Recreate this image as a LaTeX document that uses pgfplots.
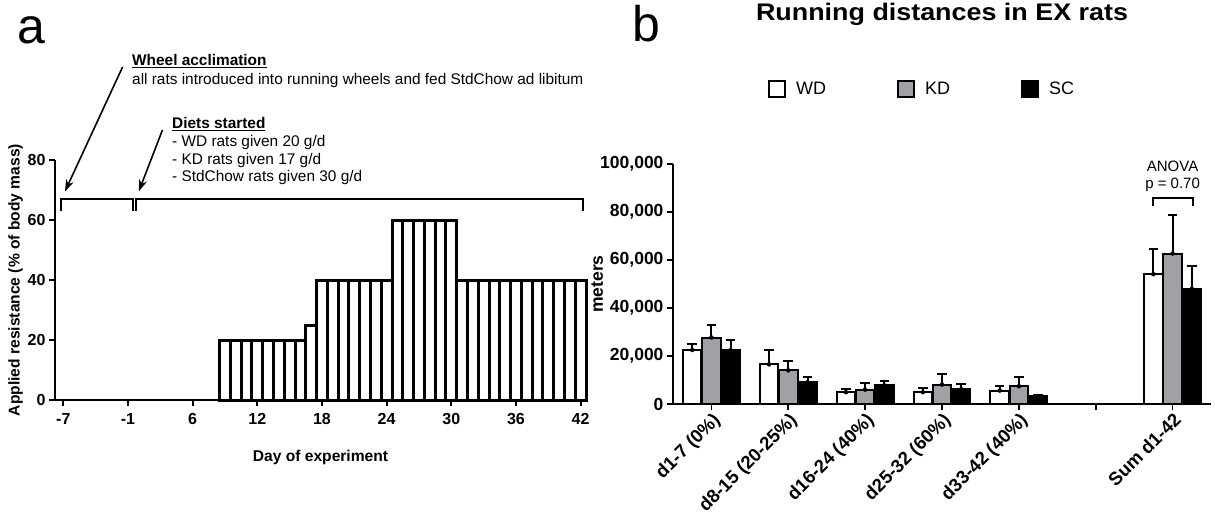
\documentclass[border=0pt]{standalone}
\usepackage{pgfplots}
\usepackage{pgfplotstable}
\pgfplotsset{compat=1.18}
\usepackage{graphicx}
\usepackage{fontspec}
\setmainfont{Liberation Sans}
\usetikzlibrary{arrows.meta}
\definecolor{kdgray}{RGB}{160,160,166}

\pgfplotstableread{
x y e
0 22500 2700
1 16500 6200
2 4900 1400
3 4900 1700
4 5600 1700
6 54100 10400
}\wdtab
\pgfplotstableread{
x y e
0 27700 5300
1 14000 3800
2 6000 2800
3 8100 4500
4 7400 3800
6 62700 16200
}\kdtab
\pgfplotstableread{
x y e
0 22400 4300
1 9100 2100
2 7800 1700
3 6200 2200
4 3200 600
6 48000 9300
}\sctab

\pgfplotsset{
  mylegimg/.style={legend image code/.code={\draw[##1, line width=2pt] (0pt,-8pt) rectangle (16pt,8pt); \path[draw=none, fill=none] (24pt,-0.1pt) rectangle (25pt,0.1pt);}},
  myerr/.style={only marks, mark=none, black, forget plot,
    error bars/y dir=plus, error bars/y explicit,
    error bars/error bar style={line width=2pt, black},
    error bars/error mark options={rotate=90, line width=2pt, black, mark size=4.8pt}},
}

\begin{document}
\begin{tikzpicture}
\path[use as bounding box] (0pt,0pt) rectangle (1215pt,520pt);

% panel letters
\node[anchor=base west, inner sep=0, font=\fontsize{50}{50}\selectfont] at (17pt,476pt) {a};
\node[anchor=base west, inner sep=0, font=\fontsize{50}{50}\selectfont] at (632pt,478pt) {b};

% panel a annotations
\node[anchor=base west, inner sep=0, font=\bfseries\fontsize{15.4}{15.4}\selectfont] at (132pt,454pt) {\underline{Wheel acclimation}};
\node[anchor=base west, inner sep=0, font=\fontsize{15.4}{15.4}\selectfont] at (132pt,435.5pt) {all rats introduced into running wheels and fed StdChow ad libitum};
\node[anchor=base west, inner sep=0, font=\bfseries\fontsize{15.4}{15.4}\selectfont] at (172pt,391pt) {\underline{Diets started}};
\node[anchor=base west, inner sep=0, font=\fontsize{15.4}{15.4}\selectfont] at (172pt,373pt) {- WD rats given 20 g/d};
\node[anchor=base west, inner sep=0, font=\fontsize{15.4}{15.4}\selectfont] at (172pt,355.5pt) {- KD rats given 17 g/d};
\node[anchor=base west, inner sep=0, font=\fontsize{15.4}{15.4}\selectfont] at (172pt,338pt) {- StdChow rats given 30 g/d};

% panel b title
\node[anchor=base, inner sep=0, font=\bfseries\fontsize{24}{24}\selectfont] at (942pt,499pt) {\scalebox{1.12}[1]{Running distances in EX rats}};

\begin{axis}[
  at={(55pt,120pt)}, anchor=south west, scale only axis,
  width=531pt, height=240pt,
  xmin=-6.77, xmax=42.5, ymin=0, ymax=80,
  axis x line*=bottom, axis y line*=left,
  axis line style={line width=1.8pt},
  xtick={-6,0,6,12,18,24,30,36,42},
  xticklabels={-7,-1,6,12,18,24,30,36,42},
  ytick={0,20,40,60,80},
  tick align=outside, major tick length=6pt,
  tick style={line width=1.8pt, black},
  /pgf/number format/assume math mode=true,
  tick label style={font=\bfseries\fontsize{16}{16}\selectfont},
  xticklabel style={yshift=-4pt},
  xlabel={Day of experiment},
  ylabel={Applied resistance (\% of body mass)},
  label style={font=\bfseries\fontsize{15.6}{15.6}\selectfont},
  xlabel style={yshift=-18pt},
  ylabel style={yshift=-2pt},
  clip=false,
]
\addplot[ybar, bar width=1, bar shift=0pt, draw=black, fill=white, line width=3pt]
 coordinates {(9,20)(10,20)(11,20)(12,20)(13,20)(14,20)(15,20)(16,20)(17,25)
 (18,40)(19,40)(20,40)(21,40)(22,40)(23,40)(24,40)
 (25,60)(26,60)(27,60)(28,60)(29,60)(30,60)
 (31,40)(32,40)(33,40)(34,40)(35,40)(36,40)(37,40)(38,40)(39,40)(40,40)(41,40)(42,40)};
\draw[line width=1.8pt] (axis cs:-6.2,63) -- (axis cs:-6.2,67) -- (axis cs:0.45,67) -- (axis cs:0.45,63);
\draw[line width=1.8pt] (axis cs:0.75,63) -- (axis cs:0.75,67) -- (axis cs:42.25,67) -- (axis cs:42.25,63);
\draw[line width=1.6pt, -{Stealth[length=12pt,width=8pt]}] (axis cs:-0.5,111) -- (axis cs:-5.85,69.5);
\draw[line width=1.6pt, -{Stealth[length=12pt,width=8pt]}] (axis cs:3.2,90) -- (axis cs:1.0,69.5);
\end{axis}

\begin{axis}[
  at={(673pt,116pt)}, anchor=south west, scale only axis,
  width=538pt, height=240pt,
  xmin=-0.5, xmax=6.5, ymin=0, ymax=100000,
  axis x line*=bottom, axis y line*=left,
  axis line style={line width=1.8pt},
  xtick={0,1,2,3,4,5,6},
  xticklabels={d1-7 (0\%),d8-15 (20-25\%),d16-24 (40\%),d25-32 (60\%),d33-42 (40\%),,Sum d1-42},
  x tick label style={rotate=45, anchor=north east, inner sep=1pt, font=\bfseries\fontsize{18.5}{18.5}\selectfont},
  ytick={0,20000,40000,60000,80000,100000},
  yticklabels={0,{20,000},{40,000},{60,000},{80,000},{100,000}},
  scaled y ticks=false,
  tick align=outside, major tick length=6pt,
  tick style={line width=1.8pt, black},
  /pgf/number format/assume math mode=true,
  y tick label style={font=\bfseries\fontsize{17.5}{17.5}\selectfont},
  ylabel={meters},
  label style={font=\bfseries\fontsize{17.5}{17.5}\selectfont},
  ylabel style={at={(axis description cs:-0.141,0.5)}, anchor=center},
  clip=false,
  legend columns=3,
  legend style={at={(0.171,1.314)}, anchor=west, draw=none, fill=none,
    font=\fontsize{18}{18}\selectfont,
    /tikz/every even column/.append style={column sep=69pt}},
]
\addplot[ybar, bar width=0.24, bar shift=-0.25, line width=2pt, draw=black, fill=white, mylegimg]
  table[x=x, y=y] {\wdtab};
\addlegendentry{WD}
\addplot[ybar, bar width=0.24, bar shift=0pt, line width=2pt, draw=black, fill=kdgray, mylegimg]
  table[x=x, y=y] {\kdtab};
\addlegendentry{KD}
\addplot[ybar, bar width=0.24, bar shift=0.25, line width=2pt, draw=black, fill=black, mylegimg]
  table[x=x, y=y] {\sctab};
\addlegendentry{SC}
\addplot[myerr] table[x expr=\thisrow{x}-0.25, y=y, y error=e] {\wdtab};
\addplot[myerr] table[x=x, y=y, y error=e] {\kdtab};
\addplot[myerr] table[x expr=\thisrow{x}+0.25, y=y, y error=e] {\sctab};
\draw[line width=2pt] (axis cs:5.74,82600) -- (axis cs:5.74,85700) -- (axis cs:6.27,85700) -- (axis cs:6.27,82600);
\node[font=\fontsize{15}{15}\selectfont, anchor=base, inner sep=0] at (axis cs:6,96800) {ANOVA};
\node[font=\fontsize{15}{15}\selectfont, anchor=base, inner sep=0] at (axis cs:6,89900) {p = 0.70};
\end{axis}
\end{tikzpicture}
\end{document}
